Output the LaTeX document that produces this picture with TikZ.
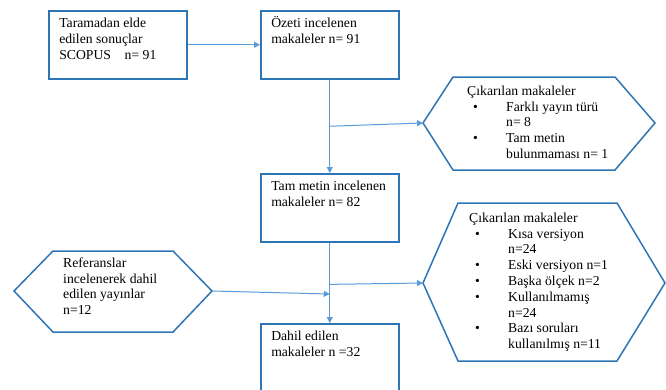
\documentclass[tikz,border=0pt]{standalone}
\usepackage{fontspec}
\setmainfont{Liberation Serif}
\usetikzlibrary{arrows.meta, calc}
\definecolor{kenar}{HTML}{2E75B6}
\definecolor{okrenk}{HTML}{5B9BD5}
\newcommand{\yazi}{\fontsize{13.7}{15.8}\selectfont}
\newcommand{\madde}{\makebox[39pt][l]{\hspace{6pt}\textbullet}}
\newcommand{\devam}{\hspace*{39pt}}
\tikzset{%
    kutu/.style={draw=kenar, line width=1.5pt, anchor=north west, inner xsep=10.5pt, inner ysep=6pt, font=\yazi},
    alti/.style={draw=kenar, line width=1.5pt, line join=miter},
    yazi/.style={anchor=north west, inner sep=0pt, align=left, font=\yazi},
    oka/.style={draw=okrenk, line width=1pt, -{Triangle[length=6pt, width=6pt]}},
}

\begin{document}
\begin{tikzpicture}[x=1pt, y=-1pt]
    \useasboundingbox (0,0) rectangle (666,389);
    \clip (0,0) rectangle (666,389);
    % boxes
    \node [kutu] (tara) at (48,10) {\parbox[c][56pt][t]{117pt}{\strut Taramadan elde\\ edilen sonuçlar\\ SCOPUS\quad n= 91}};
    \node [kutu] (ozet) at (260,10) {\parbox[c][56pt][t]{117pt}{\strut Özeti incelenen\\ makaleler n= 91}};
    \node [kutu] (tam) at (260,173) {\parbox[c][56pt][t]{117pt}{\strut Tam metin incelenen\\ makaleler n= 82}};
    \node [kutu] (dahil) at (260,323) {\parbox[c][80pt][t]{117pt}{\strut Dahil edilen\\ makaleler n =32}};
    % hexagons
    \draw [alti] (423,123) coordinate (cik1w) -- (453,77) -- (615,77) -- (655,123) -- (615,170) -- (453,170) -- cycle;
    \node [yazi] (cik1) at (467,84) {\strut Çıkarılan makaleler\\ \madde Farklı yayın türü\\ \devam n= 8\\ \madde Tam metin\\ \devam bulunmaması n= 1};
    \draw [alti] (423,283) coordinate (cik2w) -- (458,203) -- (617,203) -- (665,283) -- (617,361) -- (458,361) -- cycle;
    \node [yazi] (cik2) at (469,211) {\strut Çıkarılan makaleler\\ \madde Kısa versiyon\\ \devam n=24\\ \madde Eski versiyon n=1\\ \madde Başka ölçek n=2\\ \madde Kullanılmamış\\ \devam n=24\\ \madde Bazı soruları\\ \devam kullanılmış n=11};
    \draw [alti] (14,291) -- (53,251) -- (173,251) -- (212,291) coordinate (refe) -- (173,332) -- (53,332) -- cycle;
    \node [yazi] (ref) at (63,256) {\strut Referanslar\\ incelenerek dahil\\ edilen yayınlar\\ n=12};
    % connectors
    \coordinate (k1) at ($(ozet.south)!0.5!(tam.north)$);
    \coordinate (k2) at ($(tam.south)!0.52!(dahil.north)$);
    \coordinate (k3) at ($(tam.south)!0.64!(dahil.north)$);
    \draw [oka] (tara) -- (ozet);
    \draw [oka] (ozet.south) -- (tam.north);
    \draw [oka] (k1) -- (cik1w);
    \draw [oka] (tam.south) -- (dahil.north);
    \draw [oka] (k2) -- (cik2w);
    \draw [oka] (refe) -- (k3);
\end{tikzpicture}
\end{document}
